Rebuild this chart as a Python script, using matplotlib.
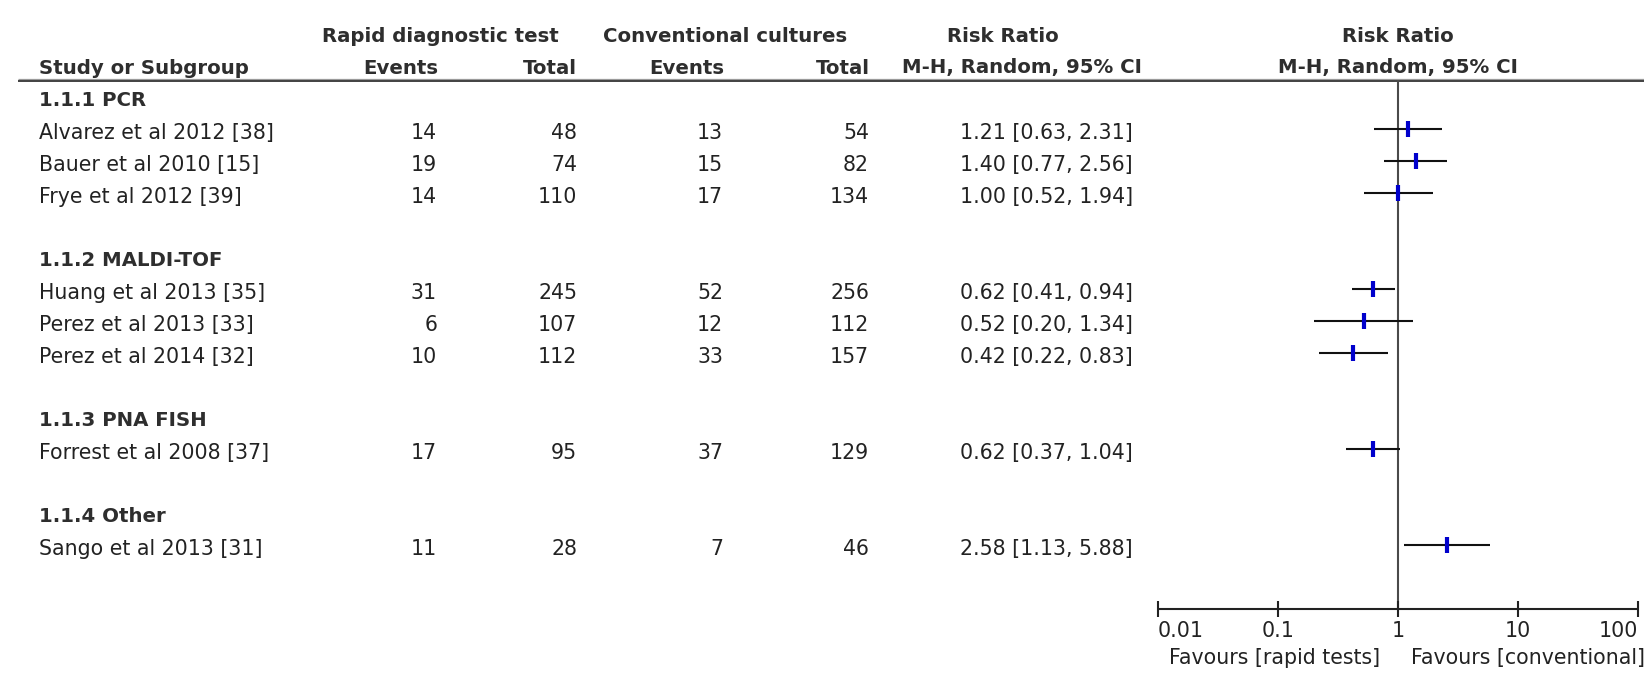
import numpy as np
import matplotlib
matplotlib.use("Agg")
import matplotlib.pyplot as plt

# ---- data -------------------------------------------------------------
groups = ["1.1.1 PCR", "1.1.2 MALDI-TOF", "1.1.3 PNA FISH", "1.1.4 Other"]
group_sizes = [3, 3, 1, 1]
studies = [
    "Alvarez et al 2012 [38]",
    "Bauer et al 2010 [15]",
    "Frye et al 2012 [39]",
    "Huang et al 2013 [35]",
    "Perez et al 2013 [33]",
    "Perez et al 2014 [32]",
    "Forrest et al 2008 [37]",
    "Sango et al 2013 [31]",
]
rapid_events = [14, 19, 14, 31, 6, 10, 17, 11]
rapid_total = [48, 74, 110, 245, 107, 112, 95, 28]
conv_events = [13, 15, 17, 52, 12, 33, 37, 7]
conv_total = [54, 82, 134, 256, 112, 157, 129, 46]
rr = [1.21, 1.40, 1.00, 0.62, 0.52, 0.42, 0.62, 2.58]
ci_low = [0.63, 0.77, 0.52, 0.41, 0.20, 0.22, 0.37, 1.13]
ci_high = [2.31, 2.56, 1.94, 0.94, 1.34, 0.83, 1.04, 5.88]
axis_ticks = [0.01, 0.1, 1, 10, 100]
axis_ticklabels = ["0.01", "0.1", "1", "10", "100"]

# ---- layout -----------------------------------------------------------
W, H = 1644, 678
fig = plt.figure(figsize=(W / 100, H / 100), dpi=100)
fig.patch.set_facecolor("white")

# table canvas in pixel units
tab = fig.add_axes([0, 0, 1, 1])
tab.set_xlim(0, W)
tab.set_ylim(H, 0)
tab.axis("off")

FONT = "DejaVu Sans"
FS = 14.8
FS_H = 14.2
TXT = "#222222"
HDR = "#2e2e2e"

row0, step = 97, 32
# row index of every line in the table (group headers and studies)
group_rows, study_rows = [], []
k = 0
for gsize in group_sizes:
    group_rows.append(k)
    study_rows.extend(range(k + 1, k + 1 + gsize))
    k += gsize + 2
row_y = lambda r: row0 + step * r

# column headers
hdr_kw = dict(fontfamily=FONT, fontsize=FS_H, fontweight="bold", color=HDR, va="center")
tab.text(440, 37, "Rapid diagnostic test", ha="center", **hdr_kw)
tab.text(725, 37, "Conventional cultures", ha="center", **hdr_kw)
tab.text(1003, 37, "Risk Ratio", ha="center", **hdr_kw)
tab.text(1398, 37, "Risk Ratio", ha="center", **hdr_kw)
tab.text(39, 68, "Study or Subgroup", ha="left", **hdr_kw)
tab.text(438, 68, "Events", ha="right", **hdr_kw)
tab.text(577, 68, "Total", ha="right", **hdr_kw)
tab.text(724, 68, "Events", ha="right", **hdr_kw)
tab.text(870, 68, "Total", ha="right", **hdr_kw)
tab.text(1022, 68, "M-H, Random, 95% CI", ha="center", **hdr_kw)
tab.text(1398, 68, "M-H, Random, 95% CI", ha="center", **hdr_kw)

# double rule under the header
tab.plot([18, W], [79, 79], color="#9a9a9a", lw=0.9, solid_capstyle="butt")
tab.plot([18, W], [81.3, 81.3], color="#333333", lw=1.3, solid_capstyle="butt")

# group labels
for g, r in zip(groups, group_rows):
    tab.text(39, row_y(r) + 4, g, ha="left", **hdr_kw)

# study rows
cell_kw = dict(fontfamily=FONT, fontsize=FS, color=TXT, va="center")
for i, r in enumerate(study_rows):
    y = row_y(r) + 4
    tab.text(39, y, studies[i], ha="left", **cell_kw)
    tab.text(437, y, f"{rapid_events[i]}", ha="right", **cell_kw)
    tab.text(577, y, f"{rapid_total[i]}", ha="right", **cell_kw)
    tab.text(723, y, f"{conv_events[i]}", ha="right", **cell_kw)
    tab.text(869, y, f"{conv_total[i]}", ha="right", **cell_kw)
    tab.text(1133, y, f"{rr[i]:.2f} [{ci_low[i]:.2f}, {ci_high[i]:.2f}]",
             ha="right", **cell_kw)

# ---- forest plot on a log axis ---------------------------------------
x0, x1 = 1158, 1638
fax = fig.add_axes([x0 / W, 0, (x1 - x0) / W, 1])
fax.set_xscale("log")
fax.set_xlim(0.01, 100)
fax.set_ylim(H, 0)
fax.axis("off")

# line of no effect
fax.plot([1, 1], [80, 609], color="#4a4a4a", lw=1.5, solid_capstyle="butt", zorder=2)

ys = np.array([row_y(r) for r in study_rows])
fax.hlines(ys, ci_low, ci_high, color="#111111", lw=1.5, zorder=3)
fax.plot(rr, ys, linestyle="none", marker="|", markersize=11.5,
         markeredgewidth=3.0, color="#0000cc", zorder=4)

# scale axis
ax_y = 609
fax.plot([0.01, 100], [ax_y, ax_y], color="#222222", lw=1.5, solid_capstyle="butt",
         clip_on=False)
fax.vlines(axis_ticks, ax_y - 8, ax_y + 8, color="#222222", lw=1.5, clip_on=False)
lab_kw = dict(fontfamily=FONT, fontsize=FS, color=TXT, va="center")
for t, lab in zip(axis_ticks, axis_ticklabels):
    ha = "left" if t == axis_ticks[0] else ("right" if t == axis_ticks[-1] else "center")
    fax.text(t, 631, lab, ha=ha, clip_on=False, **lab_kw)

tab.text(1380, 658, "Favours [rapid tests]", ha="right", **lab_kw)
tab.text(1411, 658, "Favours [conventional]", ha="left", clip_on=True, **lab_kw)

fig.savefig("out.png", dpi=100, facecolor="white")
